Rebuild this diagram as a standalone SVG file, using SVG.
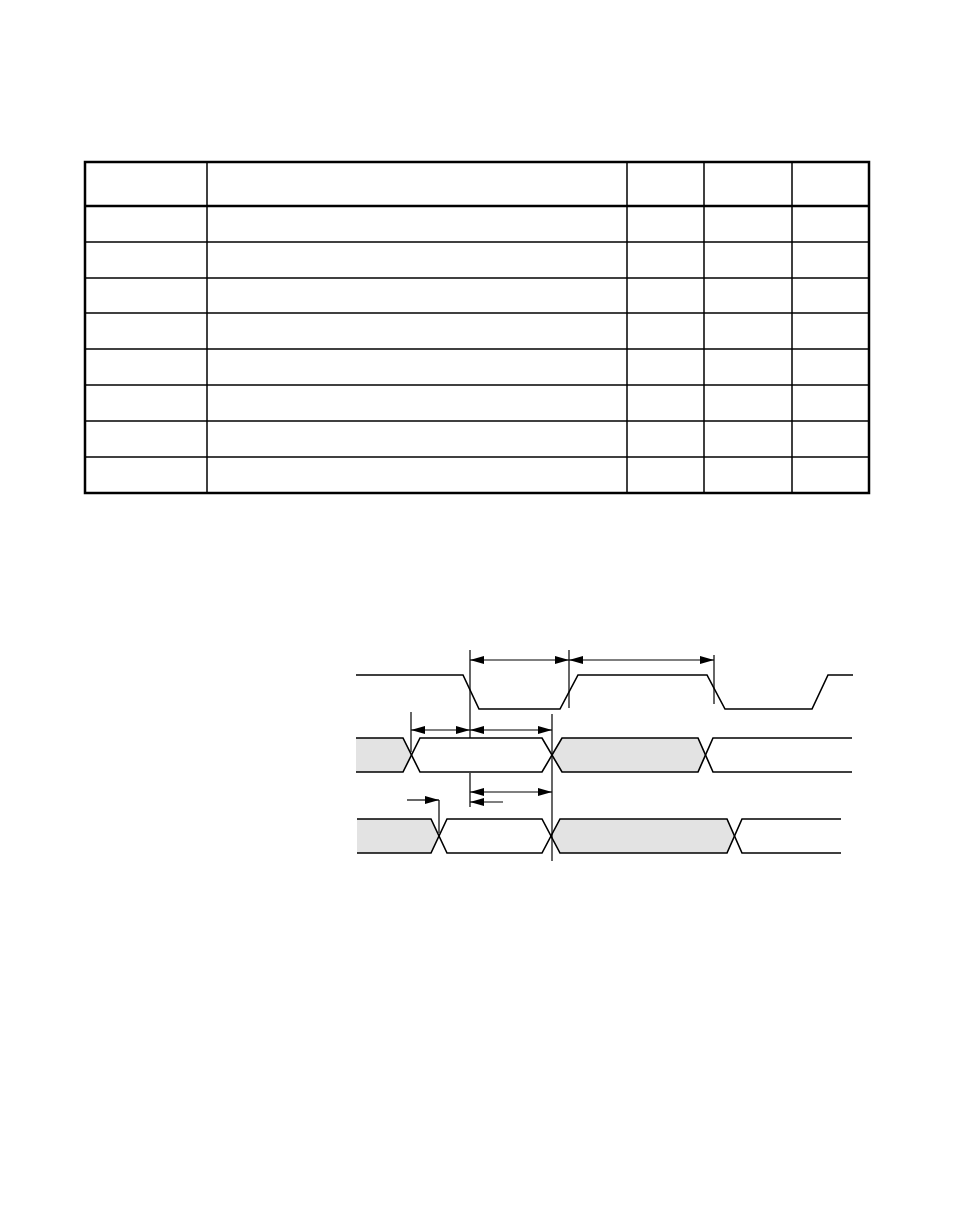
<svg xmlns="http://www.w3.org/2000/svg" width="954" height="1227" viewBox="0 0 954 1227">
<style>
.t{stroke:#000;stroke-width:1.5;fill:none}
.tk{stroke:#000;stroke-width:2.5;fill:none}
.w{stroke:#000;stroke-width:1.6;fill:none}
.g{fill:#e3e3e3;stroke:none}
.v{stroke:#000;stroke-width:1.2}
.a{stroke:#000;stroke-width:1.2;marker-start:url(#s);marker-end:url(#e)}
</style>
<defs>
<marker id="e" markerWidth="14" markerHeight="8" refX="14" refY="4" orient="auto" markerUnits="userSpaceOnUse"><path d="M0,0L14,4L0,8Z"/></marker>
<marker id="s" markerWidth="14" markerHeight="8" refX="0" refY="4" orient="auto" markerUnits="userSpaceOnUse"><path d="M14,0L0,4L14,8Z"/></marker>
</defs>
<rect width="954" height="1227" fill="#fff"/>
<g id="table">
<rect x="85" y="162" width="784" height="331" class="tk" stroke-width="2"/>
<line x1="85" y1="206" x2="869" y2="206" class="tk" stroke-width="3"/>
<g class="t">
<line x1="85" y1="242" x2="869" y2="242"/><line x1="85" y1="278" x2="869" y2="278"/>
<line x1="85" y1="313" x2="869" y2="313"/><line x1="85" y1="349" x2="869" y2="349"/>
<line x1="85" y1="385" x2="869" y2="385"/><line x1="85" y1="421" x2="869" y2="421"/>
<line x1="85" y1="457" x2="869" y2="457"/>
<line x1="207" y1="162" x2="207" y2="493"/><line x1="627" y1="162" x2="627" y2="493"/>
<line x1="704" y1="162" x2="704" y2="493"/><line x1="792" y1="162" x2="792" y2="493"/>
</g>
</g>
<g id="bus1">
<path class="g" d="M356,738H403L411,755L403,772H356Z"/>
<path class="g" d="M562,738H698L706,755L698,772H562L552,755Z"/>
<path class="w" d="M356,738H403L420,772H542L562,738H698L713,772H852"/>
<path class="w" d="M356,772H403L420,738H542L562,772H698L713,738H852"/>
</g>
<g id="bus2">
<path class="g" d="M357,819H431L439,836L431,853H357Z"/>
<path class="g" d="M560,819H727L735,836L727,853H560L552,836Z"/>
<path class="w" d="M357,819H431L447,853H542L560,819H727L742,853H841"/>
<path class="w" d="M357,853H431L447,819H542L560,853H727L742,819H841"/>
</g>
<g id="clock">
<path class="w" d="M356,675H463L479,709H560L578,675H707L725,709H812L828,675H853"/>
</g>
<g id="connectors">
<line class="v" x1="470" y1="650" x2="470" y2="738"/>
<line class="v" x1="470" y1="773" x2="470" y2="807"/>
<line class="v" x1="569" y1="650" x2="569" y2="708"/>
<line class="v" x1="714" y1="655" x2="714" y2="704"/>
<line class="v" x1="411" y1="712" x2="411" y2="752"/>
<line class="v" x1="552" y1="714" x2="552" y2="861"/>
<line class="v" x1="439" y1="800" x2="439" y2="833"/>
<line class="a" x1="470" y1="660" x2="569" y2="660" stroke-width="2"/>
<line class="a" x1="569" y1="660" x2="714" y2="660"/>
<line class="a" x1="411" y1="730" x2="470" y2="730"/>
<line class="a" x1="470" y1="730" x2="552" y2="730"/>
<line class="a" x1="470" y1="792" x2="552" y2="792"/>
<line x1="503" y1="802" x2="470" y2="802" stroke="#000" stroke-width="1.2" marker-end="url(#e)"/>
<line x1="407" y1="800" x2="439" y2="800" stroke="#000" stroke-width="1.2" marker-end="url(#e)"/>
</g>
</svg>
